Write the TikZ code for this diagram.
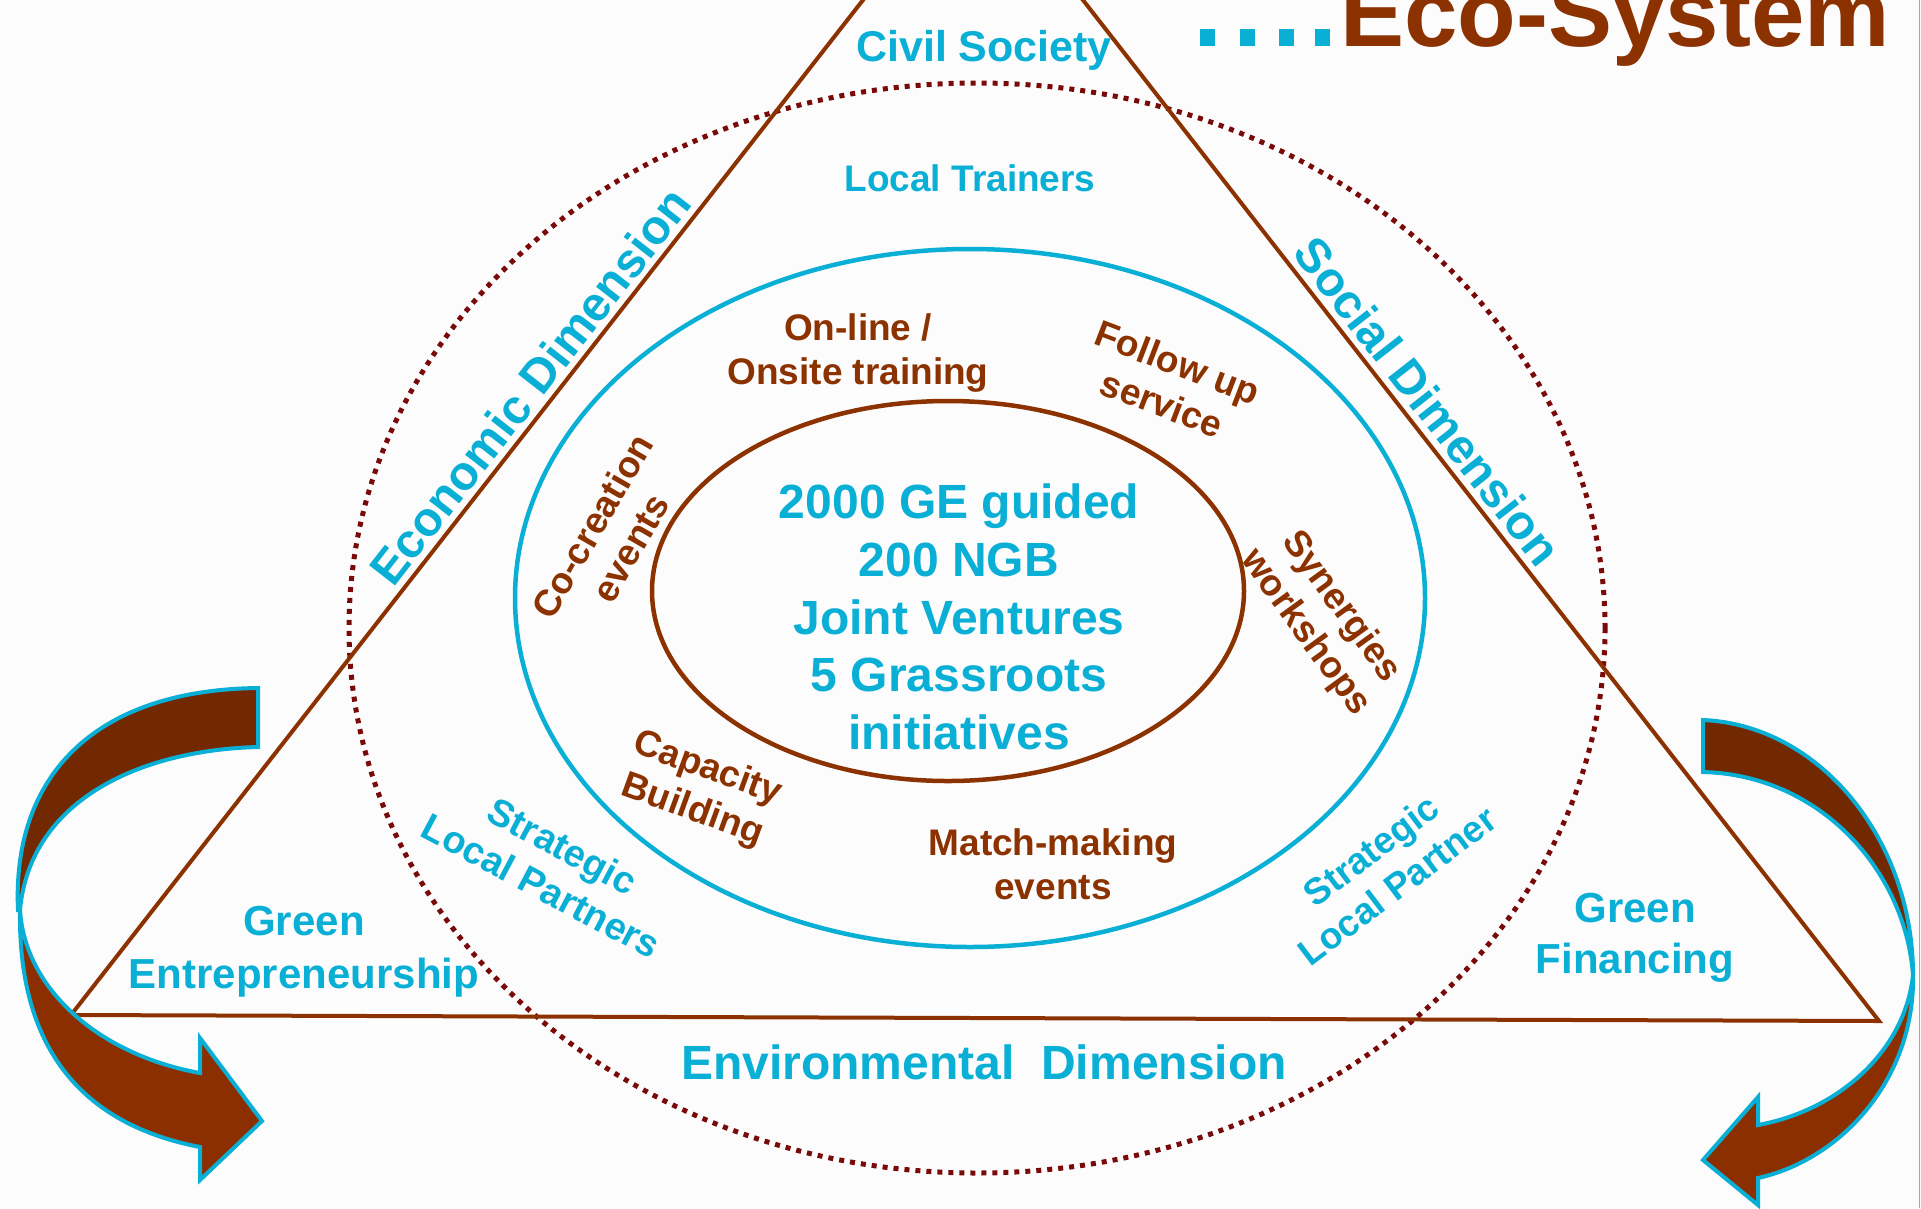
\documentclass[tikz,border=0pt]{standalone}
\usepackage{fontspec}
\setmainfont{Liberation Sans}
\definecolor{cy}{HTML}{0AAFD6}
\definecolor{br}{HTML}{8C3200}
\definecolor{mar}{HTML}{7A0A0A}
\definecolor{arrdark}{HTML}{722800}
\definecolor{arrlight}{HTML}{8B2F00}
\definecolor{bg}{HTML}{FCFCFC}
\newcommand{\fz}[2]{\fontsize{#1}{#2}\selectfont\bfseries}
\tikzset{
  cytext/.style={text=cy, inner sep=0pt, align=center},
  brtext/.style={text=br, inner sep=0pt, align=center},
  triline/.style={draw=br, line width=4pt, line join=miter},
  dotring/.style={draw=mar, line width=5pt, dash pattern=on 5pt off 6pt},
  cyring/.style={draw=cy, line width=4.5pt},
  brring/.style={draw=br, line width=4.5pt},
  arrband/.style={draw=cy, line width=4pt, line join=miter},
}
\begin{document}
\begin{tikzpicture}[x=1pt,y=-1pt]
\useasboundingbox (0,0) rectangle (1921,1208);
\fill[bg] (0,0) rectangle (1921,1208);
\begin{scope}
\clip (0,0) rectangle (1921,1208);
% rings
\draw[dotring] (977,628) ellipse [x radius=628pt, y radius=545pt];
\coordinate (A) at (973,-141);
\coordinate (L) at (71,1015);
\coordinate (R) at (1879,1021);
\draw[triline] (A) -- (L) -- (R) -- cycle;
\draw[cyring] (970,598) ellipse [x radius=455pt, y radius=349pt];
\draw[brring] (948,591) ellipse [x radius=296pt, y radius=190pt];
% left curved arrow
\fill[arrdark, arrband] (18,910) .. controls (12,780) and (90,690) .. (258,688)
   -- (258,747) .. controls (140,750) and (30,800) .. (20,910) -- cycle;
\fill[arrlight, arrband] (20,910) .. controls (18,1035) and (70,1122) .. (200,1147)
   -- (200,1180) -- (262,1121) -- (200,1038) -- (200,1073)
   .. controls (100,1055) and (25,990) .. (20,910) -- cycle;
% right curved arrow
\fill[arrdark, arrband] (1703,720) .. controls (1820,725) and (1913,840) .. (1913,975)
   .. controls (1905,870) and (1820,775) .. (1703,772) -- cycle;
\fill[arrlight, arrband] (1913,975) .. controls (1915,1080) and (1840,1160) .. (1758,1178)
   -- (1758,1205) -- (1703,1160) -- (1758,1097) -- (1758,1125)
   .. controls (1840,1110) and (1905,1050) .. (1913,975) -- cycle;
\draw[gray!70, line width=1.5pt] (1919.5,0) -- (1919.5,1208);
\end{scope}
% title
\fill[cy] (1200,29) rectangle (1215,46);
\fill[cy] (1240,29) rectangle (1255,46);
\fill[cy] (1279,29) rectangle (1294,46);
\fill[cy] (1315,29) rectangle (1330,46);
\node[anchor=base west, inner sep=0pt, text=br, font=\fz{96}{100}] (title) at (1340,46) {Eco-System};
% texts
\node[cytext, font=\fz{43}{50}] (civil) at (984,50) {Civil Society};
\node[cytext, font=\fz{37}{44}] (trainers) at (970,178) {Local Trainers};
\node[cytext, font=\fz{48}{58}, rotate=52] (econ) at (530,386) {Economic Dimension};
\node[cytext, font=\fz{48}{58}, rotate=-52] (social) at (1428,401) {Social Dimension};
\node[cytext, font=\fz{48}{58}] (env) at (984,1062) {Environmental\ \ Dimension};
\node[cytext, font=\fz{48}{57.6}] (core) at (959,617) {2000 GE guided\\200 NGB\\Joint Ventures\\5 Grassroots\\initiatives};
\node[brtext, font=\fz{37}{44}] (online) at (858,353) {On-line /\\Onsite training};
\node[brtext, font=\fz{37}{44}, rotate=-21] (follow) at (1170,383) {Follow up\\service};
\node[brtext, font=\fz{37}{44}, rotate=60] (cocre) at (611,537) {Co-creation\\events};
\node[brtext, font=\fz{37}{44}, rotate=-54] (syn) at (1323,620) {Synergies\\workshops};
\node[brtext, font=\fz{37}{44}, rotate=-20] (cap) at (700,790) {Capacity\\Building};
\node[brtext, font=\fz{37}{44}] (match) at (1053,864) {Match-making\\events};
\node[cytext, font=\fz{38}{45}, rotate=-28] (slp1) at (552,866) {Strategic\\Local Partners};
\node[cytext, font=\fz{37}{44}, rotate=37] (slp2) at (1384,868) {Strategic\\Local Partner};
\node[cytext, font=\fz{42}{53}] (ge) at (304,952) {Green\\Entrepreneurship};
\node[cytext, font=\fz{42}{51}] (gf) at (1635,938) {Green\\Financing};
\end{tikzpicture}
\end{document}
